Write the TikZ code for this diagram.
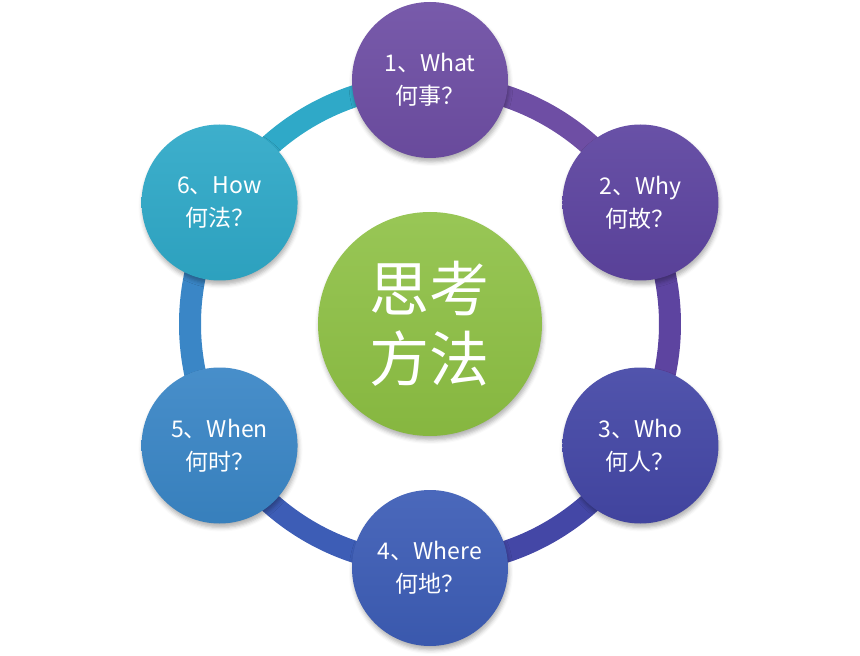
\documentclass[tikz,border=0pt]{standalone}
\usepackage{fontspec}
\setmainfont{Noto Sans CJK SC}
\usepackage{tikz}
\usetikzlibrary{shadows.blur}
\definecolor{whatc}{HTML}{6E4EA4}
\definecolor{whyc}{HTML}{5D44A0}
\definecolor{whoc}{HTML}{4447A6}
\definecolor{wherec}{HTML}{3D5DB6}
\definecolor{whenc}{HTML}{3A86C6}
\definecolor{howc}{HTML}{2FA9C8}
\definecolor{hubc}{HTML}{8DC043}
\tikzset{font=\fontsize{23}{33}\selectfont}
\tikzset{every node/.append style={transform shape=false}}
\tikzset{ask/.style={circle, minimum size=156pt, inner sep=0pt, text=white, align=center,
    top color=#1!93!white, bottom color=#1!95!black,
    blur shadow={shadow xshift=1pt, shadow yshift=-4pt, shadow blur radius=4pt, shadow opacity=30}}}
\tikzset{hub/.style={circle, minimum size=224pt, inner sep=0pt, text=white, align=center,
    top color=hubc!90!white, bottom color=hubc!95!black,
    font=\fontsize{60}{70}\selectfont,
    blur shadow={shadow xshift=1pt, shadow yshift=-4pt, shadow blur radius=4pt, shadow opacity=30}}}

\begin{document}
\begin{tikzpicture}[x=1pt,y=1pt]
  \useasboundingbox (-430,-332) rectangle (430,324);

  \foreach \a/\c in {150/howc, 90/whatc, 30/whyc, -30/whoc, -90/wherec, -150/whenc}
    \draw[line width=22pt, \c] (\a:240) arc[start angle=\a, end angle=\a-60, radius=240];

  \node[hub] (think) at (0,0) {思考\\方法};

  \node[ask=whatc] (what) at (90:244) {1、What\\何事？};
  \node[ask=whyc] (why) at (30:243) {2、Why\\何故？};
  \node[ask=whoc] (who) at (-30:243) {3、Who\\何人？};
  \node[ask=wherec] (where) at (-90:244) {4、Where\\何地？};
  \node[ask=whenc] (when) at (-150:243) {5、When\\何时？};
  \node[ask=howc] (how) at (150:243) {6、How\\何法？};

\end{tikzpicture}
\end{document}
